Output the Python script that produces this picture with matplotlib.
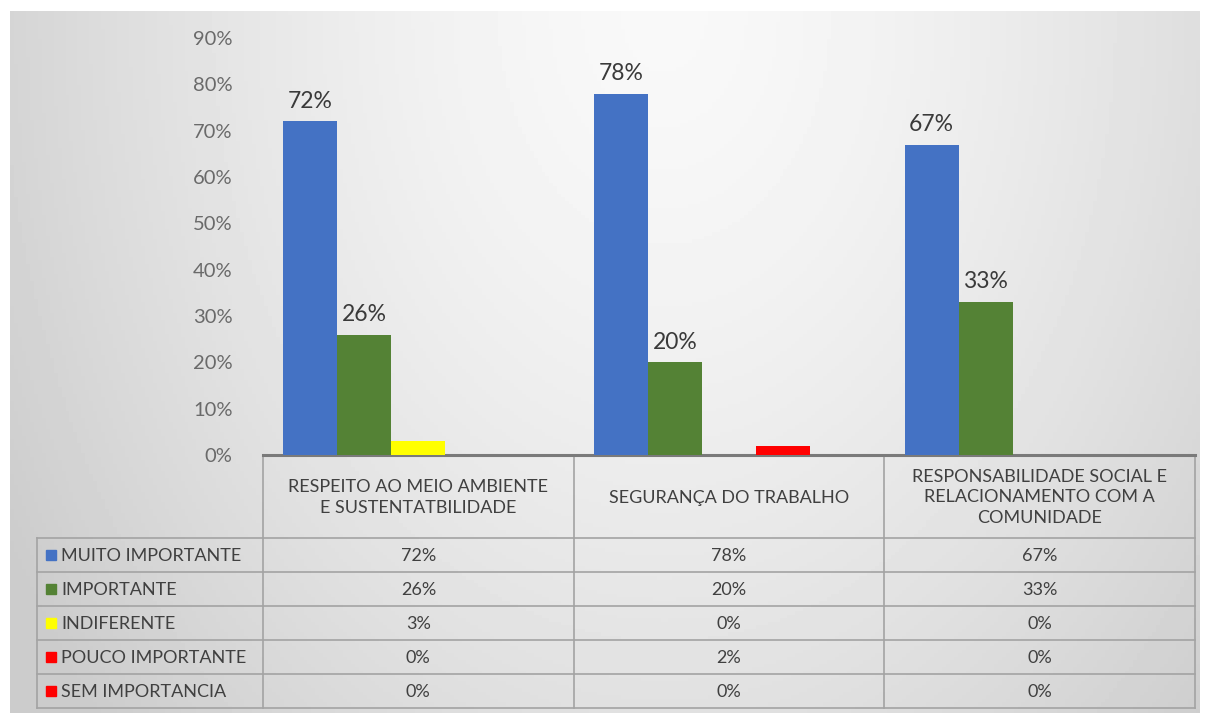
import numpy as np
import matplotlib
matplotlib.use('Agg')
import matplotlib.pyplot as plt
from matplotlib.patches import Rectangle

# dados do grafico
categorias = ['RESPEITO AO MEIO AMBIENTE\nE SUSTENTATBILIDADE',
              'SEGURANÇA DO TRABALHO',
              'RESPONSABILIDADE SOCIAL E\nRELACIONAMENTO COM A\nCOMUNIDADE']
series = ['MUITO IMPORTANTE', 'IMPORTANTE', 'INDIFERENTE',
          'POUCO IMPORTANTE', 'SEM IMPORTANCIA']
muito_importante = [72, 78, 67]
importante = [26, 20, 33]
indiferente = [3, 0, 0]
pouco_importante = [0, 2, 0]
sem_importancia = [0, 0, 0]
valores = [muito_importante, importante, indiferente, pouco_importante, sem_importancia]
cores = ['#4472C4', '#548235', '#FFFF00', '#FF0000', '#FF0000']
yticks = [0, 10, 20, 30, 40, 50, 60, 70, 80, 90]

plt.rcParams['font.family'] = ['Lato', 'DejaVu Sans']

W, H = 1208, 715
fig = plt.figure(figsize=(W / 100, H / 100), dpi=100, facecolor='white')

# fundo com gradiente
bg = fig.add_axes([10 / W, (H - 713) / H, 1190 / W, 702 / H])
gx, gy = np.meshgrid(np.linspace(0, 1, 300), np.linspace(0, 1, 200))
dist = np.sqrt(((gx - 0.55) / 0.55) ** 2 + (gy / 1.3) ** 2)
grad = np.clip(0.975 - 0.14 * dist ** 1.5, 0.80, 0.975)
bg.imshow(grad, cmap='gray', vmin=0, vmax=1, aspect='auto', extent=[0, 1, 1, 0])
bg.axis('off')

# area das barras (pixels)
x0, x1 = 263, 1195
y_top, y_base = 38, 455

tab = fig.add_axes([0, 0, 1, 1])
tab.set_xlim(0, W)
tab.set_ylim(H, 0)
tab.axis('off')

ax = fig.add_axes([x0 / W, (H - y_base) / H, (x1 - x0) / W, (y_base - y_top) / H])
ax.set_facecolor('none')

n = len(series)
largura = 0.174
x = np.arange(len(categorias))
for i, (nome, vals, cor) in enumerate(zip(series, valores, cores)):
    pos = x + (i - (n - 1) / 2) * largura
    barras = ax.bar(pos, vals, width=largura, color=cor, zorder=2)
    rotulos = [f'{v}%' if v >= 10 else '' for v in vals]
    ax.bar_label(barras, labels=rotulos, padding=7, fontsize=16.5, color='#3a3a3a')

ax.set_xlim(-0.5, len(categorias) - 0.5)
ax.set_ylim(0, 90)
ax.set_yticks(yticks)
ax.set_yticklabels([f'{t}%' for t in yticks])
ax.tick_params(axis='y', length=0, pad=22, labelsize=14.5, labelcolor='#6a6a6a')
ax.set_xticks([])
for s in ax.spines.values():
    s.set_visible(False)

# tabela de dados
linha = '#a3a3a3'
tab_left = 37
linhas_y = [538, 572, 606, 640, 674, 708]
col_w = (x1 - x0) / len(categorias)
cols_x = [x0 + k * col_w for k in range(len(categorias) + 1)]

tab.plot([x0, x1], [y_base, y_base], color='#7a7a7a', lw=2.2, zorder=3)
for yy in linhas_y:
    tab.plot([tab_left, x1], [yy, yy], color=linha, lw=1.2)
for k, xx in enumerate(cols_x):
    tab.plot([xx, xx], [y_base, linhas_y[-1]], color=linha, lw=1.2)
tab.plot([tab_left, tab_left], [linhas_y[0], linhas_y[-1]], color=linha, lw=1.2)

for k, cat in enumerate(categorias):
    cx = cols_x[k] + col_w / 2
    tab.text(cx, (y_base + linhas_y[0]) / 2 + 1, cat, ha='center', va='center',
             fontsize=13, color='#404040', linespacing=1.35)

for i, (nome, vals, cor) in enumerate(zip(series, valores, cores)):
    yc = (linhas_y[i] + linhas_y[i + 1]) / 2
    tab.add_patch(Rectangle((46, yc - 5), 10, 10, color=cor))
    tab.text(61, yc + 1, nome, ha='left', va='center', fontsize=13, color='#404040')
    for k, v in enumerate(vals):
        cx = cols_x[k] + col_w / 2
        tab.text(cx, yc + 1, f'{v}%', ha='center', va='center', fontsize=13, color='#404040')

fig.savefig('out.png', dpi=100, facecolor='white')
